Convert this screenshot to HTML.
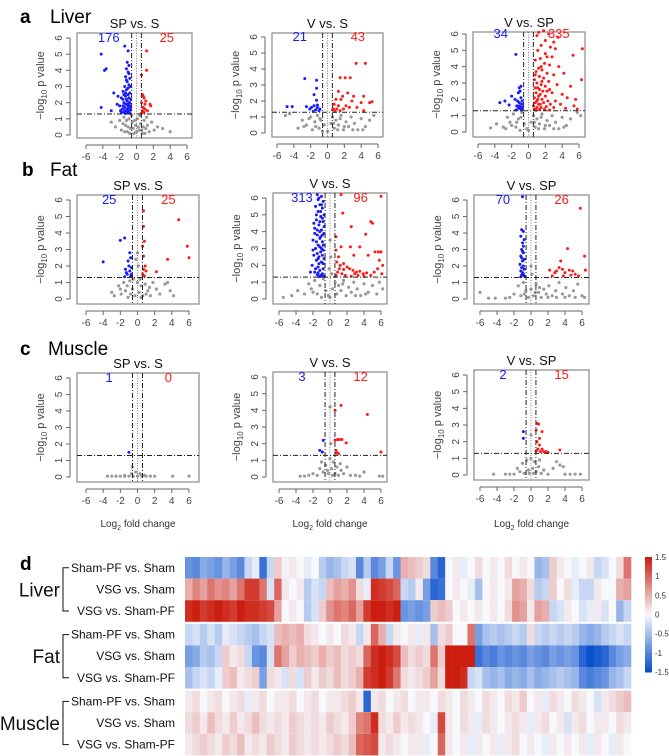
<!DOCTYPE html>
<html><head><meta charset="utf-8"><style>
html,body{margin:0;padding:0;background:#fff;}
svg{display:block;font-family:"Liberation Sans",Arial,sans-serif;}
</style></head><body>
<svg id="fig" width="669" height="756" viewBox="0 0 669 756" xmlns="http://www.w3.org/2000/svg">
<g id="labels">
<text x="20" y="23" font-size="19" font-weight="bold">a</text>
<text x="50" y="23" font-size="19">Liver</text>
<text x="22" y="176" font-size="19" font-weight="bold">b</text>
<text x="50" y="176" font-size="19">Fat</text>
<text x="20" y="355" font-size="19" font-weight="bold">c</text>
<text x="48" y="355" font-size="19">Muscle</text>
<text x="20" y="570" font-size="19" font-weight="bold">d</text>
</g>
</svg>
<script>
// ---------- volcano data ----------
const xTicks=[-6,-4,-2,0,2,4,6];
const yTicks=[0,1,2,3,4,5,6];
const titles=["SP vs. S","V vs. S","V vs. SP","SP vs. S","V vs. S","V vs. SP","SP vs. S","V vs. S","V vs. SP"];
const downCounts=[176,21,34,25,313,70,1,3,2];
const upCounts=[25,43,335,25,96,26,0,12,15];
const pThreshold=1.3;
const fcThreshold=0.58;

const blueA1=[[-4.2,5.0],[-3.8,4.0],[-3.6,4.1],[-2.7,2.6],[-2.2,2.4],[-4.2,1.7],[-3.0,1.5],[-1.4,5.5],[-1.0,5.2],[-1.1,4.5],[-0.9,4.3],[-1.2,4.1],[-1.0,3.9],[-1.3,3.6],[-0.8,3.5],[-1.1,3.3],[-1.4,3.0],[-0.9,3.1],[-1.2,2.8],[-1.6,2.7],[-0.8,2.6],[-1.0,2.5],[-1.3,2.4],[-1.8,2.3],[-0.7,2.2],[-1.1,2.1],[-1.5,2.0],[-0.9,1.95],[-1.2,1.9],[-2.0,1.8],[-0.8,1.8],[-1.4,1.7],[-1.0,1.65],[-1.7,1.6],[-0.7,1.55],[-1.2,1.5],[-0.9,1.45],[-1.5,1.4],[-1.1,1.38],[-0.8,1.35],[-1.3,1.33],[-1.9,1.5],[-2.3,1.9],[-1.6,2.2],[-1.3,2.6],[-1.0,2.9],[-0.7,3.0],[-1.5,2.5],[-1.2,2.2],[-0.9,2.3],[-1.6,1.8],[-1.3,1.9],[-1.0,1.8],[-0.7,1.7],[-1.8,1.4],[-1.4,1.5],[-1.1,1.6],[-0.8,2.0],[-1.2,3.4],[-0.9,3.8]];
const redA1=[[1.2,5.2],[1.2,4.0],[0.6,3.7],[0.7,2.5],[0.9,2.3],[0.6,2.0],[1.6,1.9],[1.7,1.8],[0.8,1.7],[1.0,1.6],[0.7,1.5],[1.3,1.5],[0.9,1.4],[0.6,1.35],[1.1,2.1],[0.8,2.4],[1.0,1.9]];
const grayA1=[[-3.0,0.8],[-2.5,0.5],[2.5,0.5],[3.1,0.4],[4.0,0.2],[-2.0,0.9],[-1.8,0.3],[-1.5,1.1],[-1.3,0.6],[-1.1,0.2],[-0.9,1.0],[-0.7,0.4],[-0.5,0.8],[-0.3,0.1],[-0.1,0.6],[0.1,1.0],[0.3,0.3],[0.5,0.7],[0.7,0.1],[0.9,0.9],[1.1,0.4],[1.3,0.6],[1.5,0.2],[1.8,0.8],[2.1,0.3],[-1.6,0.7],[-1.2,0.9],[-0.8,0.1],[-0.4,0.4],[0.0,0.2],[0.4,1.2],[0.8,0.5],[1.2,1.1],[-1.0,0.5],[-0.6,1.2],[-0.2,0.9],[0.2,0.5],[0.6,0.3],[1.0,0.1],[-1.4,0.2]];

const blueA2=[[-4.8,1.65],[-4.2,1.65],[-2.7,3.4],[-1.3,3.3],[-1.3,2.8],[-1.6,2.4],[-1.3,2.05],[-1.2,1.75],[-2.5,1.65],[-1.9,1.6],[-1.6,1.7],[-2.1,1.5],[-1.4,1.45],[-1.0,1.4],[-1.7,1.35],[-1.2,1.6],[-0.9,1.5]];
const redA2=[[3.4,4.35],[4.5,4.35],[1.5,3.45],[2.1,3.45],[2.7,3.45],[1.3,2.6],[2.4,2.5],[1.8,2.3],[3.1,2.3],[4.3,2.3],[1.0,2.1],[1.6,2.1],[2.9,2.0],[4.0,1.9],[5.0,1.9],[5.3,1.95],[0.8,1.8],[1.3,1.7],[2.2,1.7],[0.7,1.5],[1.1,1.5],[1.9,1.5],[4.3,1.4],[0.9,1.35],[1.5,1.4],[2.6,1.6],[3.5,1.6],[0.6,1.45]];
const grayA2=[[-4.5,1.2],[-5.0,1.1],[-3.5,0.3],[-3.0,0.8],[-2.5,0.5],[-2.0,1.0],[-1.8,0.2],[-1.5,0.7],[-1.2,1.1],[-1.0,0.3],[-0.8,0.8],[-0.6,0.1],[-0.4,0.5],[0.0,0.1],[0.4,0.6],[0.6,1.0],[0.8,0.3],[1.0,0.8],[1.3,0.5],[1.6,1.1],[1.9,0.2],[2.2,0.7],[2.5,0.4],[2.8,1.0],[3.2,0.6],[3.6,0.2],[4.0,0.9],[4.5,0.4],[5.0,0.8],[5.5,1.1],[-2.2,0.9],[-1.4,0.4],[-0.9,0.9],[0.7,0.6],[1.2,0.2],[1.5,0.9],[2.0,0.4],[3.0,0.2],[-2.8,0.4],[4.2,0.2]];

const blueA3=[[-1.5,4.75],[-3.4,1.8],[-2.8,1.9],[-2.3,1.65],[-2.0,2.2],[-1.1,2.7],[-0.9,2.8],[-1.0,2.5],[-1.2,2.4],[-1.6,2.0],[-1.3,1.9],[-0.9,2.1],[-1.1,1.8],[-0.8,1.7],[-1.4,1.6],[-1.0,1.55],[-0.7,1.5],[-1.2,1.45],[-0.9,1.4],[-1.5,1.35],[-0.8,1.35],[-1.1,1.6],[-0.75,1.9]];
const redA3=[[1.2,6.1],[1.8,6.2],[2.4,6.0],[3.5,5.8],[3.0,5.5],[2.0,5.6],[1.0,5.9],[1.5,5.3],[2.6,5.2],[3.2,5.1],[5.3,4.7],[6.4,5.1],[1.1,5.0],[2.0,4.8],[2.8,4.6],[1.4,4.5],[0.8,4.4],[1.9,4.2],[2.5,4.1],[3.6,4.0],[1.2,3.9],[1.6,3.8],[0.9,3.7],[2.2,3.6],[3.0,3.5],[4.2,3.6],[1.3,3.4],[1.8,3.3],[0.7,3.2],[2.4,3.1],[1.0,3.0],[1.5,2.9],[2.0,2.8],[3.4,2.9],[0.8,2.7],[1.3,2.6],[1.7,2.5],[2.5,2.6],[5.0,2.8],[0.9,2.4],[1.4,2.3],[2.0,2.2],[2.8,2.4],[4.0,2.3],[0.7,2.1],[1.1,2.0],[1.6,2.0],[2.3,1.9],[3.2,1.9],[4.6,2.1],[5.6,2.0],[0.8,1.8],[1.2,1.7],[1.8,1.8],[2.6,1.7],[3.8,1.7],[5.4,1.6],[0.6,1.6],[1.0,1.5],[1.5,1.5],[2.1,1.55],[3.0,1.5],[4.4,1.45],[0.7,1.4],[1.3,1.38],[1.9,1.4],[2.5,1.35],[0.9,1.33],[5.8,1.4],[1.1,2.7],[1.6,3.1],[1.2,2.2],[2.2,2.5],[0.8,3.5],[1.5,4.0],[2.2,4.6],[1.0,1.9],[1.4,1.7],[6.3,3.2]];
const grayA3=[[-4.5,0.25],[-3.8,0.5],[-3.0,0.3],[-2.5,0.9],[-2.2,0.6],[-1.8,1.1],[-1.5,0.3],[-1.2,0.8],[-1.0,0.1],[-0.8,1.2],[-0.5,0.5],[-0.2,0.2],[0.0,0.1],[0.3,0.6],[0.6,1.0],[0.8,0.3],[1.0,0.8],[1.3,0.5],[1.6,1.1],[1.9,0.2],[2.2,0.7],[2.5,0.4],[2.8,1.0],[3.2,0.6],[3.6,0.2],[4.0,0.9],[4.5,0.4],[5.0,0.8],[5.8,1.2],[6.2,1.0],[-2.0,0.4],[-1.4,0.6],[-0.9,0.9],[0.7,0.6],[1.2,0.2],[1.5,0.9],[2.0,0.4],[3.0,0.2],[-2.7,0.2],[4.2,0.3]];

const blueB1=[[-4.0,2.25],[-2.0,3.55],[-1.5,3.7],[-0.9,2.8],[-0.8,2.5],[-1.0,2.0],[-1.4,1.8],[-0.9,1.7],[-1.2,1.5],[-0.8,1.4],[-1.5,1.35],[-0.7,1.9],[-1.1,2.3],[-0.7,1.5],[-1.3,1.6]];
const redB1=[[0.7,5.35],[0.7,4.4],[4.8,4.8],[5.8,3.2],[6.0,2.5],[3.5,2.4],[0.8,3.5],[0.6,3.2],[0.7,2.6],[2.2,1.65],[0.9,2.0],[0.7,1.8],[1.0,1.7],[0.6,1.5],[0.8,1.4]];
const grayB1=[[-3.0,0.4],[-2.7,0.2],[-2.2,0.8],[-1.9,0.3],[-1.6,1.0],[-1.4,0.5],[-1.1,0.1],[-0.9,1.1],[-0.6,0.6],[-0.3,0.2],[0.0,1.0],[0.2,0.4],[0.4,0.8],[0.6,0.2],[0.9,0.9],[1.2,0.5],[1.5,0.2],[1.8,1.0],[2.2,0.6],[2.6,0.3],[3.2,0.9],[3.8,0.5],[4.2,0.2],[-1.2,0.8],[-0.5,1.2],[0.3,1.2],[0.1,2.0],[0.0,2.8],[-0.2,2.4],[0.4,0.1],[-0.8,0.3],[1.0,0.3],[1.4,0.7],[-2.0,0.6],[3.5,1.0]];

const blueB2=[[-1.5,6.2],[-1.0,6.1],[-0.8,5.8],[-1.2,5.6],[-0.9,5.4],[-1.4,5.2],[-0.7,5.0],[-1.1,4.9],[-1.6,4.7],[-0.8,4.6],[-1.3,4.4],[-1.8,4.2],[-1.0,4.1],[-0.7,3.9],[-1.5,3.8],[-1.2,3.6],[-2.0,3.5],[-0.9,3.4],[-1.4,3.2],[-1.7,3.0],[-0.8,2.9],[-1.1,2.8],[-1.9,2.6],[-1.3,2.5],[-0.7,2.4],[-1.6,2.3],[-1.0,2.2],[-2.1,2.0],[-1.4,1.9],[-0.8,1.8],[-1.2,1.7],[-1.8,1.6],[-0.9,1.5],[-1.5,1.45],[-1.1,1.4],[-0.7,1.35],[-1.3,1.33],[-2.3,1.6],[-1.0,3.0],[-1.5,2.7],[-1.2,4.0],[-0.9,4.8],[-1.4,5.9],[-1.7,5.5],[-1.1,5.2],[-0.8,3.2],[-1.3,2.1],[-1.7,1.8],[-0.9,2.6],[-1.6,3.4],[-1.2,4.6],[-1.9,4.5],[-1.0,5.6],[-1.3,6.0],[-0.7,4.3],[-1.5,4.1],[-1.1,3.7],[-1.8,3.9],[-0.8,2.1],[-1.4,1.55],[-1.0,1.35],[-2.0,2.9],[-1.6,5.0],[-1.2,3.1],[-0.9,3.8],[-1.4,2.4]];
const redB2=[[1.3,6.2],[6.0,6.1],[1.5,5.1],[4.8,4.6],[5.0,4.5],[2.5,4.3],[4.2,3.85],[0.7,3.7],[1.3,3.1],[2.4,3.1],[3.5,3.1],[5.3,2.8],[5.7,2.8],[6.0,2.8],[2.8,2.6],[0.7,2.9],[1.0,2.5],[4.5,2.6],[0.8,2.2],[1.2,2.0],[1.6,2.1],[2.0,1.9],[2.3,1.8],[2.7,1.7],[3.1,1.6],[3.5,1.65],[3.9,1.5],[4.3,1.55],[4.8,1.4],[5.2,1.6],[5.6,1.8],[6.1,1.5],[0.9,1.6],[1.4,1.5],[1.8,1.4],[2.5,1.35],[3.3,1.4],[4.0,1.35],[5.8,2.3],[1.1,1.8],[0.7,1.4],[1.6,1.75],[2.9,1.5],[6.2,2.0]];
const grayB2=[[-5.5,0.1],[-4.5,0.2],[-3.8,0.5],[-3.0,0.3],[-2.5,0.9],[-2.2,0.6],[-1.8,1.1],[-1.5,0.3],[-1.2,0.8],[-1.0,0.1],[-0.8,1.2],[-0.5,0.5],[-0.2,0.2],[0.0,0.1],[0.3,0.6],[0.6,1.0],[0.8,0.3],[1.0,0.8],[1.3,0.5],[1.6,1.1],[1.9,0.2],[2.2,0.7],[2.5,0.4],[2.8,1.0],[3.2,0.6],[3.6,0.2],[4.0,0.9],[4.5,0.4],[5.0,0.8],[5.8,1.0],[6.2,0.6],[0.1,2.5],[0.0,3.5],[-0.1,1.8],[0.2,1.5],[-2.0,0.4],[1.5,0.9],[3.0,0.2],[4.2,0.3],[5.5,0.3]];

const blueB3=[[-1.0,6.2],[-1.1,4.2],[-0.9,4.1],[-1.2,3.8],[-0.8,3.6],[-1.0,3.4],[-1.1,3.0],[-0.9,2.8],[-1.2,2.6],[-0.8,2.4],[-1.0,2.3],[-1.3,2.1],[-0.9,2.0],[-1.1,1.9],[-0.8,1.8],[-1.2,1.7],[-1.0,1.6],[-0.9,1.5],[-1.1,1.45],[-0.8,1.4],[-1.2,1.35],[-1.0,2.9],[-0.9,3.2],[-1.1,2.5]];
const redB3=[[5.8,5.5],[4.3,3.05],[6.3,2.6],[3.5,2.3],[2.2,1.75],[2.8,1.6],[3.0,1.7],[3.3,1.9],[3.7,1.8],[4.0,1.6],[4.5,1.75],[4.9,1.7],[5.2,1.5],[5.6,1.4],[6.4,1.75],[2.5,1.4],[3.8,1.4],[4.7,1.45]];
const grayB3=[[-6.0,0.4],[-5.0,0.05],[-4.2,0.05],[-3.0,0.05],[-2.5,0.1],[-2.0,0.3],[-1.5,0.8],[-1.2,0.2],[-0.9,1.0],[-0.6,0.5],[-0.3,0.1],[0.0,0.6],[0.3,0.2],[0.6,0.9],[0.9,0.4],[1.2,0.1],[1.5,0.6],[1.8,0.3],[2.1,0.8],[2.5,0.2],[2.9,0.5],[3.3,1.0],[3.7,0.3],[4.1,0.7],[4.5,0.2],[5.0,0.5],[5.5,0.9],[6.0,0.2],[6.3,0.1],[-0.8,0.3],[0.5,0.4],[1.0,0.7],[2.0,0.1],[3.0,0.1],[4.0,0.1],[5.2,0.1],[0.0,2.0],[0.1,1.5]];

const blueC1=[[-1.0,1.5]];
const redC1=[];
const grayC1=[[-3.5,0.05],[-3.0,0.05],[-2.5,0.05],[-2.0,0.05],[-1.5,0.05],[-1.0,0.05],[-0.5,0.05],[0.0,0.05],[0.5,0.05],[1.0,0.05],[1.5,0.05],[2.0,0.05],[4.1,0.05],[6.0,0.05],[-0.7,0.2],[-0.6,0.6],[-0.2,0.3],[0.3,0.2],[-1.5,0.1],[0.8,0.1]];

const blueC2=[[-0.8,2.2],[-1.2,1.6],[-0.9,1.5]];
const redC2=[[1.3,4.3],[0.6,4.0],[4.4,3.75],[0.9,2.25],[1.1,2.25],[1.4,2.25],[1.9,2.05],[0.6,2.2],[6.0,1.5],[0.7,1.6],[0.8,1.45],[1.0,1.4]];
const grayC2=[[-3.5,0.05],[-3.0,0.05],[-2.5,0.1],[-2.0,0.2],[-1.5,0.1],[-1.2,0.5],[-1.0,0.9],[-0.8,0.3],[-0.5,0.7],[-0.2,0.2],[0.0,1.1],[0.2,0.5],[0.4,0.9],[0.6,0.2],[0.8,0.6],[1.0,0.1],[1.3,0.4],[1.6,0.2],[2.0,0.6],[2.4,0.1],[3.0,0.1],[3.5,0.05],[4.0,0.3],[5.8,0.05],[6.2,0.05],[0.1,2.0],[0.0,4.2],[-0.3,0.4],[0.3,0.1],[1.2,0.8]];

const blueC3=[[-0.9,2.6],[-0.9,2.2]];
const redC3=[[0.9,3.05],[0.6,2.7],[1.3,2.6],[1.0,2.2],[0.7,2.0],[1.0,1.8],[1.3,1.55],[0.8,1.55],[1.8,1.4],[3.4,1.5],[0.6,1.45],[1.1,1.4],[2.0,1.35],[0.7,3.1],[1.5,1.4]];
const grayC3=[[-4.4,0.05],[-3.0,0.05],[-2.5,0.05],[-2.0,0.05],[-1.6,0.4],[-1.3,0.2],[-1.0,0.7],[-0.8,0.1],[-0.5,0.9],[-0.3,0.3],[0.0,1.0],[0.2,0.4],[0.4,0.8],[0.6,0.2],[0.9,0.5],[1.2,0.1],[1.5,0.3],[2.0,0.05],[2.6,0.4],[3.0,0.8],[3.4,0.6],[3.8,0.5],[4.0,0.05],[4.6,0.05],[5.2,0.05],[5.8,0.05],[0.0,2.4],[-0.2,0.1],[0.3,0.1],[1.0,0.9]];

const panelBlue=[blueA1,blueA2,blueA3,blueB1,blueB2,blueB3,blueC1,blueC2,blueC3];
const panelRed=[redA1,redA2,redA3,redB1,redB2,redB3,redC1,redC2,redC3];
const panelGray=[grayA1,grayA2,grayA3,grayB1,grayB2,grayB3,grayC1,grayC2,grayC3];

// ---------- heatmap data ----------
const heatRows=["Sham-PF vs. Sham","VSG vs. Sham","VSG vs. Sham-PF"];
const heatGroups=["Liver","Fat","Muscle"];
const colorTicks=[1.5,1,0.5,0,-0.5,-1,-1.5];
const liver1=[-0.9,-1,-0.7,-0.8,-0.9,-0.6,-0.8,-1,-0.3,-0.1,-1.2,-0.3,0.3,0.05,0.1,0,-0.1,0,-0.4,-0.6,-0.5,-0.3,-0.2,-1.0,-0.4,-1.0,-0.8,-0.3,-0.9,0.5,0.4,0.3,0.2,-1.0,-1.3,0,0.1,-0.1,0,0.2,0,0.1,0,0.2,0,0.1,0,-0.6,-0.5,0.3,0.1,0,-0.1,0,0.1,-0.3,-0.2,0,0.2,0.9];
const liver2=[0.5,0.8,0.6,0.9,0.7,0.8,0.6,0.9,1.3,1.3,0.9,-0.2,1.0,0.1,0,0.1,-0.4,-0.2,-0.3,0.4,0.6,0.5,0.7,0.2,-0.1,1.4,1.3,1.2,1.0,-0.3,-0.4,0.1,-0.8,-1.3,-1.2,0,0.1,0,-0.1,-0.5,0,0.1,0,0.1,0.6,0.5,0.2,-0.4,-0.3,0.3,0,0.2,-0.1,-0.3,-0.3,0.1,0,0,0.5,0.6];
const liver3=[1.4,1.5,1.3,1.4,1.5,1.4,1.3,1.5,1.4,1.4,1.3,1.2,0.6,0,0.1,0,-0.4,-0.2,0.3,0.7,0.9,0.8,1.0,0.6,1.3,1.5,1.5,1.4,1.5,-0.9,-0.8,-0.9,-0.8,0.3,0.4,0.3,0,0.1,0,0.1,0,0.1,0,0.2,0.7,0.6,0.1,0.6,0.5,-0.3,-0.2,0.1,0,-0.2,-0.1,0.1,-0.2,0,-0.6,-0.3];
const fat1=[-0.3,-0.2,-0.4,-0.2,-0.4,-0.1,-0.2,-0.3,-0.4,-0.5,-0.3,-0.2,0.4,0.5,0.4,0.5,0.2,0.1,0,0.1,0,0.2,0.1,-0.3,0.1,1.0,0.5,-0.3,0.1,0,0.1,-0.1,0.1,-0.5,0.2,0.3,0,0,0.9,-0.8,-0.5,-0.4,-0.5,-0.4,-0.3,-0.4,0.2,-0.3,-0.4,-0.3,-0.4,-0.3,-0.4,-0.6,-0.7,-0.6,-0.4,-0.3,-0.2,-0.3];
const fat2=[-0.8,-0.7,-0.4,-0.5,-0.3,0.3,0.1,0.2,-0.3,-0.9,-1.0,-0.2,0.9,0.6,0.3,0.5,0.4,0.3,0.5,0.3,0.4,0.2,0.3,0.2,1.0,1.4,1.5,1.4,1.2,0.4,0.2,0.3,0.2,0.9,0.3,1.5,1.5,1.5,1.5,-1.2,-1.0,-1.1,-0.9,-1.0,-0.9,-1.0,-0.8,-0.9,-1.0,-0.8,-0.9,-0.8,-0.9,-1.3,-1.5,-1.4,-1.3,-1.0,-0.8,-0.7];
const fat3=[-0.5,-0.3,-0.2,-0.3,-0.1,0.3,0.4,0.1,0.2,0.3,-0.8,0.2,0.1,-0.2,0.2,-0.2,0.3,0.1,0.3,0.2,0.4,0.2,0.3,0.5,1.3,1.4,1.5,1.3,0.9,0.2,0.1,0.2,0.3,0.6,0.2,1.5,1.5,1.4,-0.3,-0.2,-0.5,-0.6,-0.5,-0.7,-0.6,-0.7,-0.5,-0.7,-0.6,-0.5,-0.4,-0.5,-0.6,-1.0,-1.1,-1.0,-0.9,-0.6,-0.5,-0.3];
const muscle1=[0.1,0.2,0,0.1,0.2,0,0.1,0.2,-0.1,0.1,0.2,0,0.1,0.1,0.2,0,0.1,0.2,0,0.1,0.1,0.2,0.3,0.1,-1.3,0.1,0.2,0,0.1,0.2,0,0.1,0.1,0,0.2,0.1,0,0.2,0.1,0,0.2,0.1,0,0.2,0.1,0.3,0,0.1,-0.1,0.2,0.1,0,0.2,0.1,0,-0.2,0.1,0.2,0.3,0.4];
const muscle2=[0.2,0.3,0.1,0.4,0.2,0.1,0.3,0.1,0.2,0.4,0.2,0.1,0.2,0.1,0.3,0.2,0.1,0.2,0.1,0.3,0.2,0.1,0.3,0.8,0.9,1.4,0.2,0.1,0.3,0.1,0.2,0.1,0,-0.1,1.2,0.1,0,0.2,0.1,-0.1,0.2,0.1,0,0.1,0.2,0.1,-0.1,0.1,0.2,0,0.1,-0.2,0.1,0.2,0,0.1,0.1,0,0.2,0.1];
const muscle3=[0.1,0.2,0.3,0.2,0.1,0.3,0.2,0.4,0.1,0.2,0.1,0.3,0.2,0.1,0.3,0.2,0.1,0.2,0.1,0.2,0.3,0.2,0.4,1.0,1.1,1.2,0.1,0.2,0.1,0,0.1,0.1,-0.1,0,1.0,0.1,0,0.1,-0.1,0.1,0,0.1,-0.1,0.1,0.2,0,0.1,0,-0.1,0.1,0,0.1,0,0.1,-0.1,0.1,0,-0.1,0.1,0];
const heatValues=[liver1,liver2,liver3,fat1,fat2,fat3,muscle1,muscle2,muscle3];

// ---------- layout (positions, not data) ----------
const boxes=[
 {bx:77,by:33,bw:115,bh:105,x0:86,x1:187,y0:135,y6:38},
 {bx:272,by:33,bw:111,bh:104,x0:277,x1:378,y0:133,y6:37},
 {bx:473,by:32,bw:112,bh:105,x0:478,x1:579,y0:132,y6:34},
 {bx:77,by:195,bw:122,bh:109,x0:86,x1:189,y0:299,y6:200},
 {bx:273,by:193,bw:114,bh:111,x0:279,x1:381,y0:299,y6:198},
 {bx:474,by:195,bw:115,bh:109,x0:480,x1:582,y0:299,y6:200},
 {bx:77,by:373,bw:122,bh:109,x0:86,x1:189,y0:477,y6:378},
 {bx:273,by:372,bw:114,bh:110,x0:279,x1:381,y0:477,y6:377},
 {bx:474,by:370,bw:115,bh:110,x0:480,x1:582,y0:475,y6:375}
];
const NS="http://www.w3.org/2000/svg";
const svg=document.getElementById('fig');
function mk(tag,attrs,parent){const e=document.createElementNS(NS,tag);for(const k in attrs)e.setAttribute(k,attrs[k]);(parent||svg).appendChild(e);return e;}

boxes.forEach((b,i)=>{
  const g=mk('g',{});
  
  
  const sx=v=>b.x0+(v+6)/12*(b.x1-b.x0);
  const sy=v=>b.y0-v/6*(b.y0-b.y6);
  const r=mk('rect',{x:b.bx,y:b.by,width:b.bw,height:b.bh,fill:'none',stroke:'#8a8a8a','stroke-width':1.2},g);
  
  
  panelGray[i].forEach(p=>{const c=mk('circle',{cx:sx(p[0]),cy:sy(p[1]),r:1.6,fill:'#999'},g);
    
    });
  panelBlue[i].forEach(p=>{const c=mk('circle',{cx:sx(p[0]),cy:sy(p[1]),r:1.5,fill:'#1a1aff'},g);
    
    });
  panelRed[i].forEach(p=>{const c=mk('circle',{cx:sx(p[0]),cy:sy(p[1]),r:1.5,fill:'#ff1a1a'},g);
    
    });
  const hl=mk('line',{x1:b.bx,x2:b.bx+b.bw,y1:sy(pThreshold),y2:sy(pThreshold),stroke:'#222','stroke-width':1,'stroke-dasharray':'5,2,1,2'},g);
  
  
  [-fcThreshold,fcThreshold].forEach(v=>{const l=mk('line',{x1:sx(v),x2:sx(v),y1:b.by,y2:b.by+b.bh,stroke:'#222','stroke-width':1,'stroke-dasharray':'5,2,1,2'},g);
    
    });
  const zl=mk('line',{x1:sx(0),x2:sx(0),y1:b.by,y2:b.by+b.bh,stroke:'#666','stroke-width':0.8,'stroke-dasharray':'1,1.5'},g);
  
  
  const ay=b.by+b.bh+7;
  const xa=mk('line',{x1:sx(-6),x2:sx(6),y1:ay,y2:ay,stroke:'#666','stroke-width':1},g);
  
  
  xTicks.forEach(t=>{mk('line',{x1:sx(t),x2:sx(t),y1:ay,y2:ay+4,stroke:'#666'},g);
    const tx=mk('text',{x:sx(t),y:ay+15,'font-size':10,'text-anchor':'middle',fill:'#444'},g);tx.textContent=t;
    
    });
  const ax=b.bx-7;
  const ya=mk('line',{x1:ax,x2:ax,y1:sy(0),y2:sy(6),stroke:'#666','stroke-width':1},g);
  
  
  yTicks.forEach(t=>{mk('line',{x1:ax,x2:ax-4,y1:sy(t),y2:sy(t),stroke:'#666'},g);
    const tx=mk('text',{x:ax-8,y:sy(t),'font-size':10,'text-anchor':'middle',fill:'#444',transform:`rotate(-90 ${ax-8} ${sy(t)})`},g);tx.textContent=t;
    
    });
  const yl=mk('text',{x:b.bx-33,y:b.by+b.bh/2,'font-size':11,'text-anchor':'middle',fill:'#444',transform:`rotate(-90 ${b.bx-33} ${b.by+b.bh/2})`},g);
  yl.innerHTML='−log<tspan font-size="8" dy="3">10</tspan><tspan dy="-3"> p value</tspan>';
  
  
  const ti=mk('text',{x:b.bx+b.bw/2,y:b.by-5,'font-size':13,'text-anchor':'middle',fill:'#111'},g);ti.textContent=titles[i];
  
  
  const dc=mk('text',{x:sx(-3.3),y:sy(5.75),'font-size':13,'text-anchor':'middle',fill:'#1a1aff'},g);dc.textContent=downCounts[i];
  
  
  const uc=mk('text',{x:sx(3.6),y:sy(5.75),'font-size':13,'text-anchor':'middle',fill:'#ff1a1a'},g);uc.textContent=upCounts[i];
  
  
  if(i>=6){const xt=mk('text',{x:b.bx+b.bw/2,y:527,'font-size':10,'text-anchor':'middle',fill:'#333'},g);
    xt.innerHTML='Log<tspan font-size="7" dy="3">2</tspan><tspan dy="-3"> fold change</tspan>';
    
    }
});

// ---------- heatmap ----------
function hcol(v){v=Math.max(-1.5,Math.min(1.5,v));const w=[246,248,252];
  const t=Math.abs(v)/1.5;const e=v>=0?[204,30,16]:[10,80,205];
  return `rgb(${Math.round(w[0]+(e[0]-w[0])*t)},${Math.round(w[1]+(e[1]-w[1])*t)},${Math.round(w[2]+(e[2]-w[2])*t)})`;}
const hx0=185,hx1=631,hy0=557,rowH=21.6,gap=2;
const hg=mk('g',{});


heatValues.forEach((row,ri)=>{
  const grp=Math.floor(ri/3);
  const y=hy0+ri*rowH+grp*gap;
  const cw=(hx1-hx0)/row.length;
  row.forEach((v,ci)=>{const c=mk('rect',{x:hx0+ci*cw,y:y,width:cw+0.3,height:rowH,fill:hcol(v)},hg);
    
    });
  const lb=mk('text',{x:175,y:y+rowH/2+4,'font-size':12,'text-anchor':'end',fill:'#111'},hg);lb.textContent=heatRows[ri%3];
  
  
});
heatGroups.forEach((gname,gi)=>{
  const top=hy0+gi*(3*rowH+gap);
  const yA=top+rowH/2,yB=top+2.5*rowH;
  const br=mk('path',{d:`M69 ${yA} H63 V${yB} H69`,fill:'none',stroke:'#111','stroke-width':1},hg);
  
  
  const t=mk('text',{x:60,y:top+1.5*rowH+7,'font-size':19,'text-anchor':'end',fill:'#111'},hg);t.textContent=gname;
  
  
});
const cbx=645,cby0=557,cby1=672;
const cb=mk('g',{});


for(let k=0;k<60;k++){const v=1.5-3*k/59;mk('rect',{x:cbx,y:cby0+(cby1-cby0)*k/60,width:7,height:(cby1-cby0)/60+0.5,fill:hcol(v)},cb);}
colorTicks.forEach(t=>{const y=cby0+(1.5-t)/3*(cby1-cby0);const tx=mk('text',{x:655,y:y+3,'font-size':8,fill:'#333'},cb);tx.textContent=t;
  
  });
</script>
</body></html>
